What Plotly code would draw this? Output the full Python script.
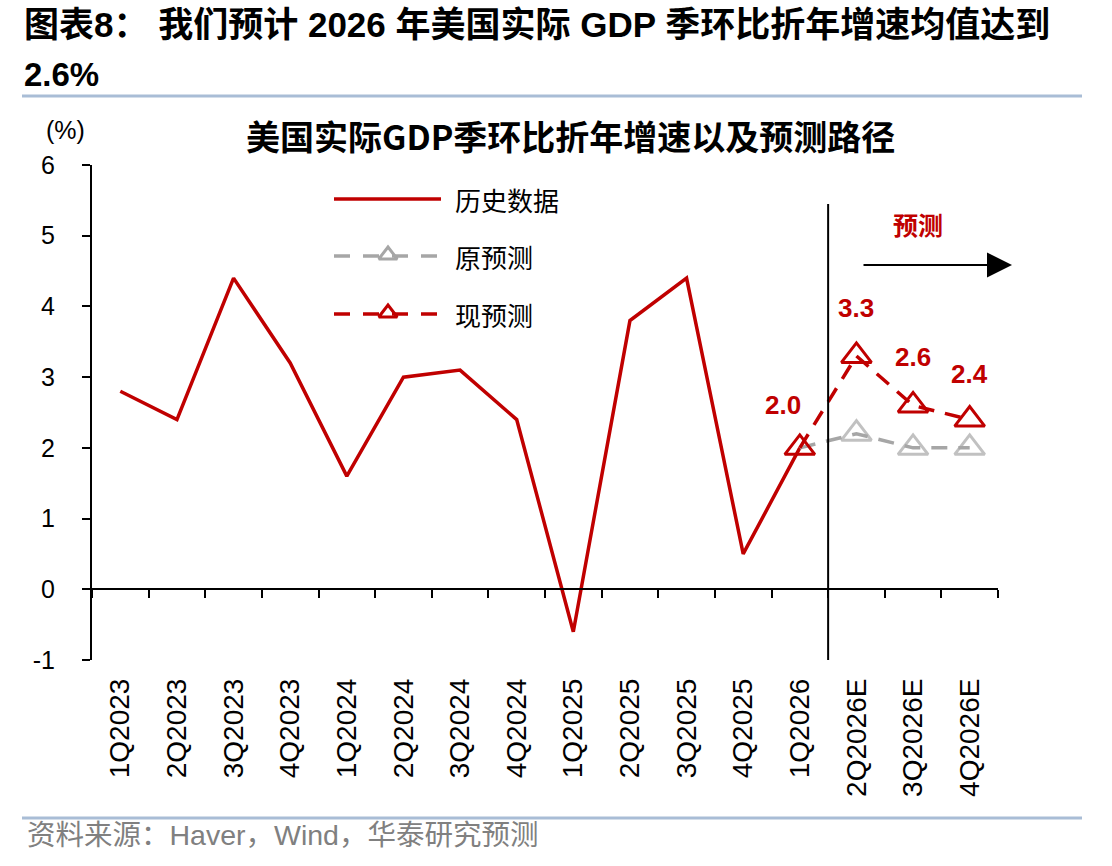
import plotly.graph_objects as go

# ---------------- data ----------------
categories = ["1Q2023", "2Q2023", "3Q2023", "4Q2023", "1Q2024", "2Q2024", "3Q2024",
              "4Q2024", "1Q2025", "2Q2025", "3Q2025", "4Q2025", "1Q2026",
              "2Q2026E", "3Q2026E", "4Q2026E"]
history = [2.8, 2.4, 4.4, 3.2, 1.6, 3.0, 3.1, 2.4, -0.6, 3.8, 4.4, 0.5, 2.0]
orig_forecast = [2.0, 2.2, 2.0, 2.0]     # 1Q2026 .. 4Q2026E
new_forecast = [2.0, 3.3, 2.6, 2.4]      # 1Q2026 .. 4Q2026E
y_ticks = [6, 5, 4, 3, 2, 1, 0, -1]

RED = "#c00000"
GRAY = "#a6a6a6"
NUM_FONT = "Arial, Liberation Sans, Noto Sans CJK SC"
CJK_FONT = "Noto Sans CJK SC, sans-serif"
HEAD_FONT = "Arial, Liberation Sans, Noto Sans CJK SC"

W, H = 1112, 866
L, R, T, B = 92, 998, 165, 660   # plot area in pixels


def px(x):
    return (x - L) / (R - L)


def py(y):
    return (B - y) / (B - T)


n_hist = len(history)
x_hist = list(range(n_hist))
x_fc = list(range(n_hist - 1, n_hist - 1 + len(new_forecast)))

fig = go.Figure()

# history
fig.add_trace(go.Scatter(x=x_hist, y=history, mode="lines",
                         line=dict(color=RED, width=3.5), showlegend=False,
                         hoverinfo="skip"))
# original forecast
fig.add_trace(go.Scatter(x=x_fc, y=orig_forecast, mode="lines+markers",
                         line=dict(color=GRAY, width=3.5, dash="16px,11px"),
                         marker=dict(symbol=["circle"] + ["triangle-up-open"] * (len(x_fc) - 1),
                                     size=[0] + [26] * (len(x_fc) - 1),
                                     color=GRAY, line=dict(width=3, color=GRAY)),
                         showlegend=False, hoverinfo="skip"))
# new forecast
fig.add_trace(go.Scatter(x=x_fc, y=new_forecast, mode="lines+markers",
                         line=dict(color=RED, width=3.5, dash="16px,11px"),
                         marker=dict(symbol="triangle-up-open", size=26,
                                     color=RED, line=dict(width=3, color=RED)),
                         showlegend=False, hoverinfo="skip"))

# ---------- manual legend (overlay pixel axes) ----------
leg_x0, leg_x1, leg_xm = 334, 441, 388
leg_rows = [199, 256, 314]
fig.add_trace(go.Scatter(x=[leg_x0, leg_x1], y=[leg_rows[0]] * 2, mode="lines",
                         line=dict(color=RED, width=3.5), xaxis="x3", yaxis="y3",
                         showlegend=False, hoverinfo="skip"))
for row, col in [(leg_rows[1], GRAY), (leg_rows[2], RED)]:
    fig.add_trace(go.Scatter(x=[leg_x0, leg_x1], y=[row, row], mode="lines",
                             line=dict(color=col, width=3.5, dash="16px,13px"),
                             xaxis="x3", yaxis="y3", showlegend=False, hoverinfo="skip"))
    fig.add_trace(go.Scatter(x=[leg_xm], y=[row - 1], mode="markers",
                             marker=dict(symbol="triangle-up-open", size=16, color=col,
                                         line=dict(width=3, color=col)),
                             xaxis="x3", yaxis="y3", showlegend=False, hoverinfo="skip"))

ann = []
for row, txt in zip(leg_rows, ["历史数据", "原预测", "现预测"]):
    ann.append(dict(x=px(453), y=py(row), xref="paper", yref="paper", text=txt,
                    showarrow=False, xanchor="left", yanchor="middle",
                    font=dict(family=CJK_FONT, size=26, color="#000000")))

# data labels of new forecast
label_xshift = [-17, 0, 0, 0]
label_yshift = [43, 48, 48, 46]
for i, (xv, yv) in enumerate(zip(x_fc, new_forecast)):
    ann.append(dict(x=xv, y=yv, xref="x", yref="y", text=f"<b>{yv:.1f}</b>",
                    showarrow=False, xshift=label_xshift[i], yshift=label_yshift[i],
                    xanchor="center", yanchor="middle",
                    font=dict(family=NUM_FONT, size=26, color=RED)))

# forecast arrow + text
ann.append(dict(x=px(1012), y=py(265), xref="paper", yref="paper", text="",
                showarrow=True, ax=-150, ay=0, arrowhead=2, arrowsize=2.5,
                arrowwidth=2, arrowcolor="#000000"))
ann.append(dict(x=px(918), y=py(224), xref="paper", yref="paper", text="<b>预测</b>",
                showarrow=False, xanchor="center", yanchor="middle",
                font=dict(family=CJK_FONT, size=25, color=RED)))

# titles / texts
ann.append(dict(x=px(22), y=py(25), xref="paper", yref="paper",
                text="<b>图表8： 我们预计 2026 年美国实际 GDP 季环比折年增速均值达到</b>",
                showarrow=False, xanchor="left", yanchor="middle",
                font=dict(family=HEAD_FONT, size=35, color="#000000")))
ann.append(dict(x=px(22), y=py(75), xref="paper", yref="paper", text="<b>2.6%</b>",
                showarrow=False, xanchor="left", yanchor="middle",
                font=dict(family=HEAD_FONT, size=33, color="#000000")))
ann.append(dict(x=px(570), y=py(135), xref="paper", yref="paper",
                text="<b>美国实际GDP季环比折年增速以及预测路径</b>",
                showarrow=False, xanchor="center", yanchor="middle",
                font=dict(family=CJK_FONT, size=34, color="#000000")))
ann.append(dict(x=px(65), y=py(130), xref="paper", yref="paper", text="(%)",
                showarrow=False, xanchor="center", yanchor="middle",
                font=dict(family=NUM_FONT, size=25, color="#000000")))
ann.append(dict(x=px(25), y=py(835), xref="paper", yref="paper",
                text="资料来源：Haver，Wind，华泰研究预测",
                showarrow=False, xanchor="left", yanchor="middle",
                font=dict(family=HEAD_FONT, size=28.5, color="#808080")))

shapes = [
    # divider between history and forecast
    dict(type="line", xref="x", yref="y", x0=n_hist - 0.5, x1=n_hist - 0.5,
         y0=y_ticks[-1], y1=5.45, line=dict(color="#000000", width=2)),
    # header / footer rules
    dict(type="line", xref="paper", yref="paper", x0=px(22), x1=px(1082),
         y0=py(96), y1=py(96), line=dict(color="#a9bdd6", width=3)),
    dict(type="line", xref="paper", yref="paper", x0=px(22), x1=px(1082),
         y0=py(818), y1=py(818), line=dict(color="#a9bdd6", width=3)),
]

n_cat = len(categories)
ymin, ymax = min(y_ticks), max(y_ticks)
fig.update_layout(
    width=W, height=H,
    margin=dict(l=L, r=W - R, t=T, b=H - B, pad=0),
    paper_bgcolor="white", plot_bgcolor="white",
    annotations=ann, shapes=shapes,
    xaxis=dict(range=[-0.5, n_cat - 0.5], tickmode="array",
               tickvals=list(range(n_cat)), ticktext=categories, tickangle=-90,
               showline=False, showgrid=False, zeroline=False, ticks="",
               ticklabelstandoff=12,
               tickfont=dict(family=NUM_FONT, size=28, color="#000000")),
    xaxis2=dict(overlaying="x", anchor="free", side="bottom",
                position=(0 - ymin) / (ymax - ymin),
                range=[-0.5, n_cat - 0.5], tickmode="array",
                tickvals=[i - 0.5 for i in range(n_cat + 1)],
                showticklabels=False, showline=True, linecolor="#000000", linewidth=2,
                ticks="outside", ticklen=8, tickwidth=2, tickcolor="#000000",
                showgrid=False, zeroline=False),
    yaxis=dict(range=[ymin, ymax], tickmode="array", tickvals=y_ticks,
               ticktext=[str(v) for v in y_ticks],
               showline=True, linecolor="#000000", linewidth=2,
               ticks="outside", ticklen=8, tickwidth=2, tickcolor="#000000",
               showgrid=False, zeroline=False, ticklabelstandoff=22,
               tickfont=dict(family=NUM_FONT, size=25, color="#000000")),
    xaxis3=dict(overlaying="x", range=[L, R], visible=False),
    yaxis3=dict(overlaying="y", range=[B, T], visible=False),
)
# hidden trace on xaxis2 so the zero axis renders
fig.add_trace(go.Scatter(x=[0], y=[0], xaxis="x2", mode="markers",
                         marker=dict(opacity=0), showlegend=False, hoverinfo="skip"))

fig.write_html("out.html")
